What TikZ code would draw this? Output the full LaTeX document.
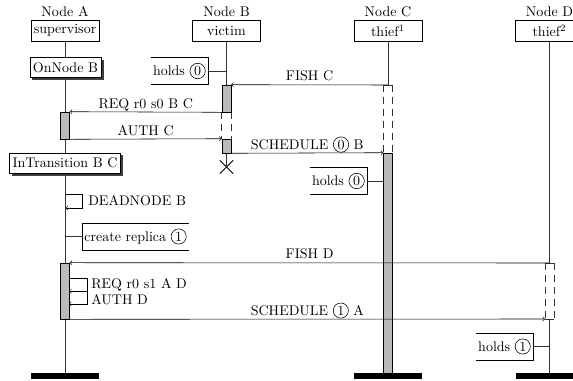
\documentclass[tikz,border=0pt]{standalone}
\usetikzlibrary{shapes.misc}
\newcommand{\cnum}[1]{\tikz[baseline=(cn.base)]\node[circle,draw,inner sep=0.9pt,minimum size=0pt,minimum width=0pt,minimum height=0pt,anchor=center](cn){#1};}
\begin{document}
\begin{tikzpicture}[x=0.714pt,y=-0.714pt,>=to,
  hdr/.style={draw,fill=white,minimum width=48.5pt,minimum height=15pt,inner sep=0pt},
  hdrlabel/.style={above=1pt,inner sep=1pt},
  state/.style={draw,fill=white,inner sep=2pt,minimum height=14.5pt},
  shadowfill/.style={fill=black!75},
  act/.style={draw,fill=black!27,minimum width=6.3pt,inner sep=0pt},
  life/.style={draw=black!80,semithick},
  susp/.style={draw=black!80,semithick,dash pattern=on 5pt off 3.5pt},
  msg/.style={->},
  lbl/.style={midway,anchor=base,yshift=2.8pt,inner sep=0pt},
  note/.style={inner sep=1.5pt,minimum height=19pt},
  endbar/.style={fill=black,minimum width=48.5pt,minimum height=4.3pt,inner sep=0pt},
  xmark/.style={cross out,draw,semithick,minimum size=9pt,inner sep=0pt},
]
\useasboundingbox (0,0) rectangle (573,381);

% headers
\node[hdr] (hA) at (65,30.5) {supervisor};
\node[hdr] (hB) at (226.5,30.5) {victim};
\node[hdr] (hC) at (388,30.5) {thief\textsuperscript{1}};
\node[hdr] (hD) at (549.5,30.5) {thief\textsuperscript{2}};
\node[hdrlabel] (lA) at (hA.north) {Node A};
\node[hdrlabel] (lB) at (hB.north) {Node B};
\node[hdrlabel] (lC) at (hC.north) {Node C};
\node[hdrlabel] (lD) at (hD.north) {Node D};

% end bars
\node[endbar] (eA) at (65,376) {};
\node[endbar] (eC) at (388,376) {};
\node[endbar] (eD) at (549.5,376) {};

% activations (for anchors)
\node[act,minimum height=19.3pt] (aB1) at (226.5,98.5) {};
\node[act,minimum height=10pt] (aB2) at (226.5,146) {};
\node[act,minimum height=19.3pt] (aA1) at (65,125.5) {};
\node[act,minimum height=157.1pt] (aC) at (388,263) {};
\node[act,minimum height=40pt] (aA2) at (65,291) {};

% lifelines
\draw[life] (hA.south) -- (eA.north);
\draw[life] (hB.south) -- (aB1.north);
\node[xmark] (xB) at (226.5,167) {};
\draw[life] (aB2.south) -- (xB.center);
\coordinate (sC) at (388,85);
\draw[life] (hC.south) -- (sC);
\coordinate (sD) at (549.5,263);
\coordinate (tD) at (549.5,319);
\draw[life] (hD.south) -- (sD);
\draw[life] (tD) -- (eD.north);

% suspension regions
\draw[susp] (aB1.south west) -- (aB2.north west);
\draw[susp] (aB1.south east) -- (aB2.north east);
\draw[life] (aC.west |- sC) -- (aC.east |- sC);
\draw[susp] (aC.west |- sC) -- (aC.north west);
\draw[susp] (aC.east |- sC) -- (aC.north east);
\coordinate (dTL) at (545,263);
\coordinate (dTR) at (554,263);
\coordinate (dBL) at (545,319);
\coordinate (dBR) at (554,319);
\draw[life] (dTL) -- (dTR);
\draw[life] (dBL) -- (dBR);
\draw[susp] (dTL) -- (dBL);
\draw[susp] (dTR) -- (dBR);

% redraw activations on top
\node[act,minimum height=19.3pt] at (aB1) {};
\node[act,minimum height=10pt] at (aB2) {};
\node[act,minimum height=19.3pt] at (aA1) {};
\node[act,minimum height=157.1pt] at (aC) {};
\node[act,minimum height=40pt] at (aA2) {};

% states with drop shadows
\node[state] (s1) at (65.5,67.5) {OnNode B};
\node[state] (s2) at (65,163) {InTransition B C};
\fill[shadowfill] ([xshift=1.8pt,yshift=-1.8pt]s1.south west) rectangle ([xshift=1.8pt,yshift=-1.8pt]s1.north east);
\fill[shadowfill] ([xshift=1.8pt,yshift=-1.8pt]s2.south west) rectangle ([xshift=1.8pt,yshift=-1.8pt]s2.north east);
\node[state] at (s1) {OnNode B};
\node[state] at (s2) {InTransition B C};

% notes
\node[note,anchor=east] (hoB) at (208,71) {holds \cnum{0}};
\draw (hoB.north west) -- (hoB.north east) -- (hoB.south east) -- (hoB.south west);
\draw[life] (hoB.east) -- (hoB.east -| hB.south);
\node[note,anchor=east] (hoC) at (367,181) {holds \cnum{0}};
\draw (hoC.north west) -- (hoC.north east) -- (hoC.south east) -- (hoC.south west);
\draw[life] (hoC.east) -- (hoC.east -| aC.west);
\node[note,anchor=east] (hoD) at (533,346.5) {holds \cnum{1}};
\draw (hoD.north west) -- (hoD.north east) -- (hoD.south east) -- (hoD.south west);
\draw[life] (hoD.east) -- (hoD.east -| hD.south);
\node[note,anchor=west] (cr) at (82,236.5) {create replica \cnum{1}};
\draw (cr.north east) -- (cr.north west) -- (cr.south west) -- (cr.south east);
\draw[life] (cr.west -| hA.south) -- (cr.west);

% messages
\draw[msg] (sC) -- (aB1.north east) node[lbl] {FISH C};
\draw[msg] (aB1.south west) -- (aA1.north east) node[lbl] {REQ r0 s0 B C};
\draw[msg] (aA1.south east) -- (aB2.north west) node[lbl] {AUTH C};
\draw[msg] (aB2.south east) -- (aC.north west) node[lbl] {SCHEDULE \cnum{0} B};

\coordinate (d1) at (65,194);
\coordinate (d2) at (82,194);
\coordinate (d3) at (82,208);
\coordinate (d4) at (65.5,208);
\draw[msg] (d1) -- (d2) -- (d3) -- (d4);
\node[anchor=west,inner sep=0pt] (dnl) at (88,201) {DEADNODE B};

\draw[msg] (sD) -- (aA2.north east) node[lbl] {FISH D};
\coordinate (r1) at (69,278);
\coordinate (r2) at (87,278);
\coordinate (r3) at (87,291);
\coordinate (r4) at (69,291);
\coordinate (r5) at (87,304);
\coordinate (r6) at (69,304);
\draw[msg] (r1) -- (r2) -- (r3) -- (r4);
\draw[msg] (r3) -- (r5) -- (r6);
\node[anchor=base west,inner sep=0pt] (rql) at (91,288) {REQ r0 s1 A D};
\node[anchor=base west,inner sep=0pt] (aul) at (91,304) {AUTH D};
\draw[msg] (aA2.south east) -- (dBL) node[lbl] {SCHEDULE \cnum{1} A};
\end{tikzpicture}
\end{document}
